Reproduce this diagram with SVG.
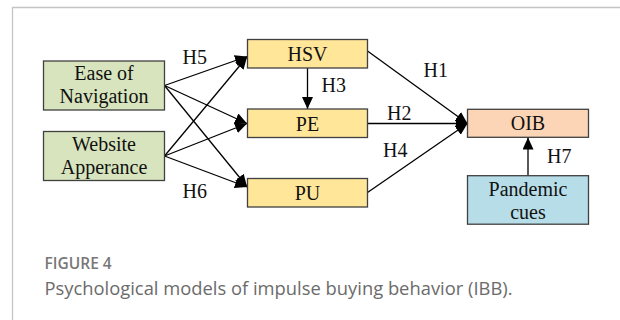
<svg xmlns="http://www.w3.org/2000/svg" width="620" height="320" viewBox="0 0 620 320">
  <style>
    .box { stroke: #404040; stroke-width: 1.3; }
    .green { fill: #d7e4bd; }
    .yellow { fill: #ffe699; }
    .peach { fill: #fbd5b5; }
    .blue { fill: #b7dee8; }
    .t { font-family: "Liberation Serif", "Times New Roman", serif; font-size: 20px; fill: #111; text-anchor: middle; }
    .lbl { font-family: "Liberation Serif", "Times New Roman", serif; font-size: 20px; fill: #111; }
    .conn line { stroke: #000; stroke-width: 1.3; fill: none; marker-end: url(#arr); }
    .fig { font-family: "Open Sans", "Noto Sans", sans-serif; font-size: 15.5px; font-weight: 600; fill: #777; }
    .cap { font-family: "Open Sans", "Noto Sans", sans-serif; font-size: 18px; fill: #6b6b6b; }
  </style>
  <defs>
    <marker id="arr" markerUnits="userSpaceOnUse" markerWidth="13" markerHeight="12" refX="12" refY="5.5" orient="auto">
      <path d="M0,0 L12,5.5 L0,11 Z" fill="#000"/>
    </marker>
  </defs>
  <rect width="620" height="320" fill="#fff"/>
  <path d="M12.5,320 V7.5 H620" fill="none" stroke="#c4c4c4" stroke-width="1.3"/>

  <g id="connectors" class="conn">
    <line x1="164.5" y1="85.5" x2="247" y2="56.5"/>
    <line x1="164.5" y1="85.5" x2="247" y2="123.5"/>
    <line x1="164.5" y1="85.5" x2="247" y2="186.5"/>
    <line x1="164.5" y1="156" x2="247" y2="57"/>
    <line x1="164.5" y1="156" x2="247" y2="123.5"/>
    <line x1="164.5" y1="156" x2="247" y2="187"/>
    <line x1="307.5" y1="68" x2="307.5" y2="109"/>
    <line x1="367.5" y1="51" x2="467.5" y2="123.5"/>
    <line x1="367.5" y1="123.5" x2="467.5" y2="123.5"/>
    <line x1="367.5" y1="192.5" x2="467.5" y2="123.5"/>
    <line x1="528" y1="175.5" x2="528" y2="137.5"/>
  </g>

  <g id="labels">
    <text class="lbl" x="182.5" y="64">H5</text>
    <text class="lbl" x="182.5" y="197.5">H6</text>
    <text class="lbl" x="321.5" y="92">H3</text>
    <text class="lbl" x="423.5" y="77">H1</text>
    <text class="lbl" x="387" y="120">H2</text>
    <text class="lbl" x="383" y="157">H4</text>
    <text class="lbl" x="547" y="163">H7</text>
  </g>

  <g id="ease">
    <rect class="box green" x="43.5" y="61" width="121" height="49"/>
    <text class="t" x="104" y="80">Ease of</text>
    <text class="t" x="104" y="103.3">Navigation</text>
  </g>
  <g id="website">
    <rect class="box green" x="43.5" y="131.5" width="121" height="49"/>
    <text class="t" x="104" y="151">Website</text>
    <text class="t" x="104" y="174.3">Apperance</text>
  </g>
  <g id="hsv">
    <rect class="box yellow" x="247.5" y="39.5" width="120" height="28.5"/>
    <text class="t" x="307.5" y="61">HSV</text>
  </g>
  <g id="pe">
    <rect class="box yellow" x="247.5" y="109" width="120" height="28.5"/>
    <text class="t" x="307.5" y="130.8">PE</text>
  </g>
  <g id="pu">
    <rect class="box yellow" x="247.5" y="178.5" width="120" height="28.5"/>
    <text class="t" x="307.5" y="200.3">PU</text>
  </g>
  <g id="oib">
    <rect class="box peach" x="467.5" y="109.3" width="121" height="28"/>
    <text class="t" x="528" y="130">OIB</text>
  </g>
  <g id="pandemic">
    <rect class="box blue" x="467.5" y="175.7" width="121" height="48.5"/>
    <text class="t" x="528" y="196">Pandemic</text>
    <text class="t" x="528" y="218.5">cues</text>
  </g>

  <g id="caption">
    <text class="fig" x="44.5" y="269">FIGURE 4</text>
    <text class="cap" x="44.5" y="294.5" textLength="468" lengthAdjust="spacingAndGlyphs">Psychological models of impulse buying behavior (IBB).</text>
  </g>
</svg>
